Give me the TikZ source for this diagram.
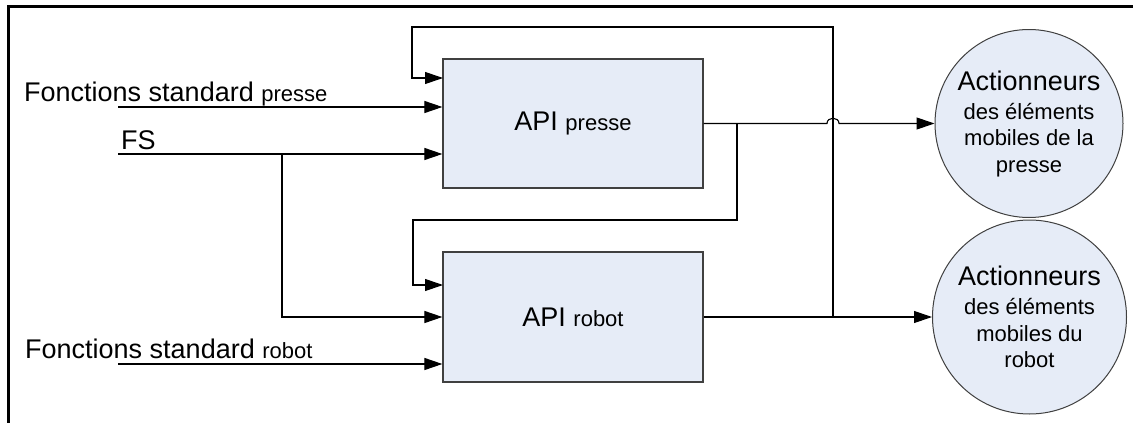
\documentclass[tikz,border=0pt]{standalone}
\usepackage{fontspec}
\setmainfont{Liberation Sans}
\usetikzlibrary{arrows.meta}
\definecolor{boxfill}{RGB}{230,236,247}
\definecolor{edgegray}{RGB}{64,64,64}
\newcommand{\bigf}{\fontsize{27}{31}\selectfont}
\newcommand{\smallf}{\fontsize{22}{26.5}\selectfont}
\begin{document}
\begin{tikzpicture}[x=1pt,y=-1pt,
  blk/.style={draw=edgegray, line width=1.2pt, fill=boxfill, minimum width=260pt, minimum height=129pt, inner sep=0pt, font=\bigf},
  act/.style={circle, draw=edgegray, line width=1pt, fill=boxfill, inner sep=0pt, align=center, font=\smallf},
  wire/.style={line width=1.1pt, draw=black},
  arr/.style={wire, -{Triangle[length=18pt,width=12pt]}},
  lbl/.style={anchor=base west, inner sep=0pt, font=\bigf}]
\useasboundingbox (0,0) rectangle (1133,423);
% frame
\draw[line width=3pt] (8.5,430) -- (8.5,6.5) -- (1140,6.5);
% blocks
\node[blk] (presse) at (573,123.5) {API {\smallf presse}};
\node[blk, minimum height=130pt] (robot) at (573,317) {API {\smallf robot}};
\node[act, minimum size=188pt] (ap) at (1029,123.5) {{\bigf Actionneurs}\\[2.5pt]des éléments\\mobiles de la\\presse};
\node[act, minimum size=194pt] (ar) at (1029.5,317) {{\bigf Actionneurs}\\[2.5pt]des éléments\\mobiles du\\robot};
% labels
\node[lbl] (fsp) at (24,101) {Fonctions standard {\smallf presse}};
\node[lbl] (fs) at (121,149) {FS};
\node[lbl] (fsr) at (25,358) {Fonctions standard {\smallf robot}};
% coordinates
\coordinate (sp) at (118,107);
\coordinate (sfs) at (118,154);
\coordinate (fsb) at (282,154);
\coordinate (sr) at (118,364);
\coordinate (pin1) at (443,78);
\coordinate (rin1) at (443,285);
\coordinate (b1) at (737,123.5);
\coordinate (b2) at (833,317);
% connectors
\draw[arr] (sp) -- (sp -| presse.west);
\draw[arr] (sfs) -- (sfs -| presse.west);
\draw[arr] (fsb) |- (robot.west);
\draw[arr] (sr) -- (sr -| robot.west);
\draw[arr] (presse.east) -- (827,123.5) .. controls (827,116.5) and (839,116.5) .. (839,123.5) -- (ap.west);
\draw[arr] (b1) -- (737,220) -- (413,220) |- (rin1);
\draw[arr] (robot.east) -- (ar.west);
\draw[arr] (b2) -- (833,27) -- (412,27) |- (pin1);
\end{tikzpicture}
\end{document}
